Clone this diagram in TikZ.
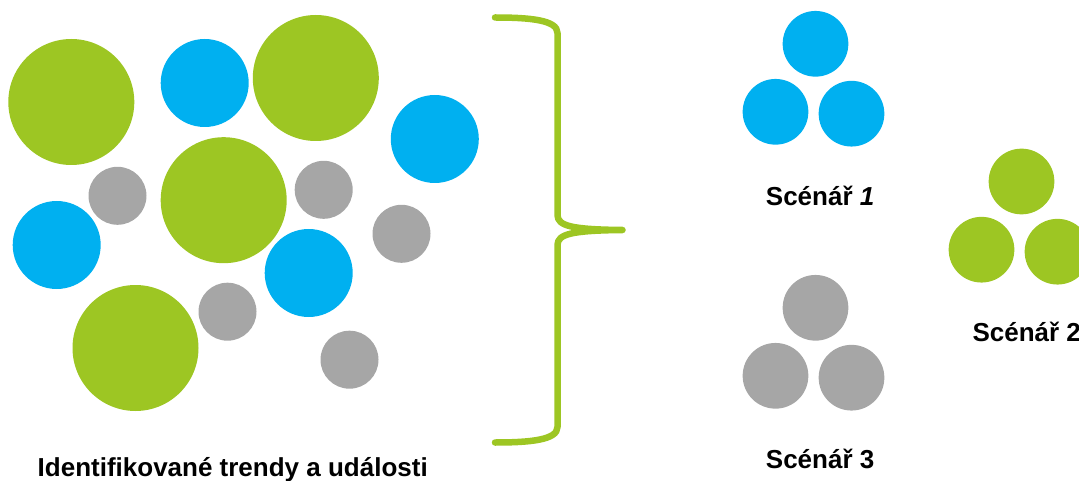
\documentclass[tikz,border=0pt]{standalone}
\usepackage{fontspec}
\setmainfont{Liberation Sans}
\definecolor{cgreen}{RGB}{157,198,35}
\definecolor{cblue}{RGB}{0,176,240}
\definecolor{cgray}{RGB}{166,166,166}
\begin{document}
\begin{tikzpicture}[x=1pt,y=-1pt,
  dot/.style={circle,draw=none,inner sep=0pt},
  big/.style={dot,minimum size=126pt},
  mid/.style={dot,minimum size=88pt},
  small/.style={dot,minimum size=58pt},
  scen/.style={dot,minimum size=65.7pt},
  lbl/.style={font=\fontsize{26}{31}\selectfont\bfseries,inner sep=0pt,anchor=base west},
  brace/.style={draw=cgreen,line width=6.5pt,line cap=round,line join=round}]
\useasboundingbox (0,0) rectangle (1079,481);
% left cloud
\node[big,fill=cgreen] (g1) at (71.3,102) {};
\node[mid,fill=cblue] (b1) at (204.7,83) {};
\node[big,fill=cgreen] (g2) at (315.8,78) {};
\node[mid,fill=cblue] (b2) at (434.8,139) {};
\node[small,fill=cgray] (s1) at (117.5,195.8) {};
\node[big,fill=cgreen] (g3) at (223.7,200.2) {};
\node[small,fill=cgray] (s2) at (323.7,189.8) {};
\node[mid,fill=cblue] (b3) at (56.7,245) {};
\node[small,fill=cgray] (s3) at (401.5,233.8) {};
\node[mid,fill=cblue] (b4) at (308.7,273) {};
\node[big,fill=cgreen] (g4) at (135.5,348) {};
\node[small,fill=cgray] (s4) at (227.5,311.7) {};
\node[small,fill=cgray] (s5) at (349.5,359.7) {};
\node[lbl] (t0) at (37.5,476.7) {Identifikované trendy a události};
% brace
\coordinate (bt) at (495,17.5);
\coordinate (bb) at (495,442.5);
\coordinate (tip) at (622.5,230);
\draw[brace] (bt) .. controls (530,17.5) and (557.5,20) .. (557.5,33)
  -- (557.5,215) .. controls (557.5,226) and (572,229.5) .. (tip)
  .. controls (572,230.5) and (557.5,234) .. (557.5,245)
  -- (557.5,427) .. controls (557.5,440) and (530,442.5) .. (bb);
% scenario 1
\node[scen,fill=cblue] (sa1) at (815.5,43.8) {};
\node[scen,fill=cblue] (sa2) at (775.5,111.8) {};
\node[scen,fill=cblue] (sa3) at (851.5,113.7) {};
\node[lbl] (t1) at (765.7,206) {Scénář \textit{1}};
% scenario 2
\node[scen,fill=cgreen] (sb1) at (1021.5,181.5) {};
\node[scen,fill=cgreen] (sb2) at (981.5,249.7) {};
\node[scen,fill=cgreen] (sb3) at (1057.5,251.7) {};
\node[lbl] (t2) at (972.3,341.7) {Scénář 2};
% scenario 3
\node[scen,fill=cgray] (sc1) at (815.5,307.8) {};
\node[scen,fill=cgray] (sc2) at (775.5,375.8) {};
\node[scen,fill=cgray] (sc3) at (851.5,377.7) {};
\node[lbl] (t3) at (765.7,468.3) {Scénář 3};
\end{tikzpicture}
\end{document}
